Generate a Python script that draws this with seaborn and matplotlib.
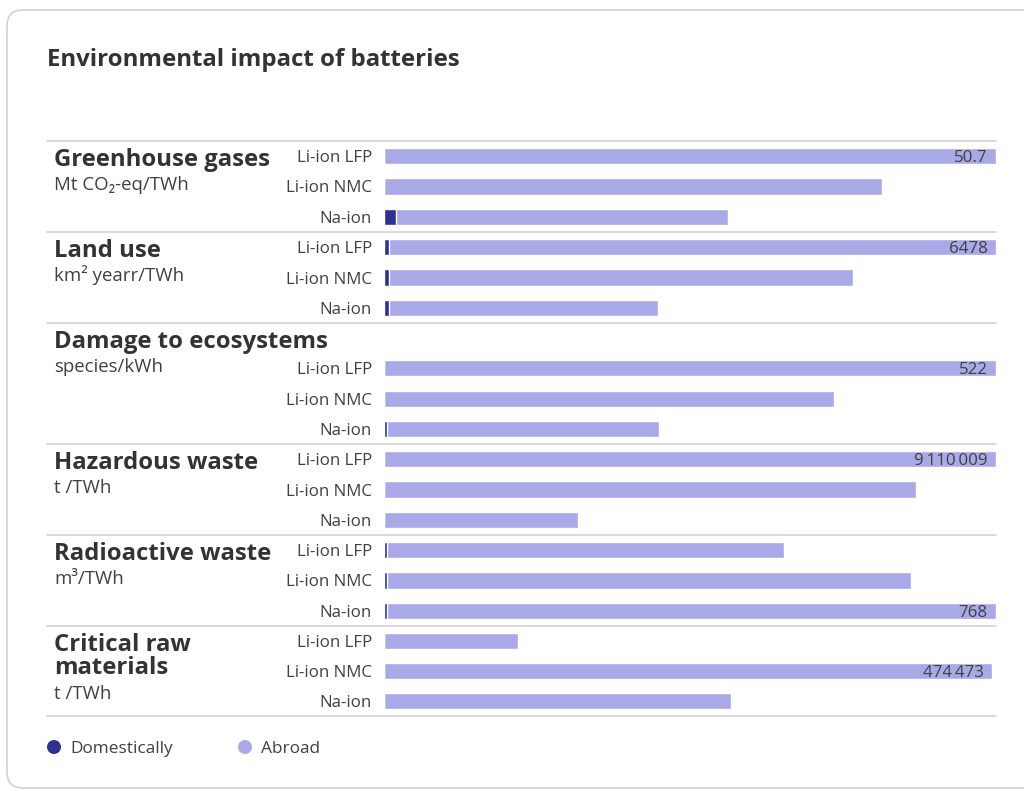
import matplotlib
matplotlib.use("Agg")
import matplotlib.pyplot as plt
from matplotlib.patches import FancyBboxPatch, Circle
import pandas as pd
import seaborn as sns

# ---- data -------------------------------------------------------------
batteries = ["Li-ion LFP", "Li-ion NMC", "Na-ion"]
groups = ["Greenhouse gases", "Land use", "Damage to ecosystems",
          "Hazardous waste", "Radioactive waste", "Critical raw\nmaterials"]
units = ["Mt CO\u2082-eq/TWh", "km\u00b2 yearr/TWh", "species/kWh",
         "t /TWh", "m\u00b3/TWh", "t /TWh"]

# total impact (domestic + abroad) per battery type
ghg_total = [50.7, 41.3, 28.5]
land_total = [6478, 4965, 2900]
eco_total = [522, 384, 235]
haz_total = [9110009, 7920000, 2900000]
rad_total = [502, 661, 768]
crm_total = [105000, 474473, 270800]

# domestic share of the impact
ghg_dom = [0, 0, 1.0]
land_dom = [60, 60, 60]
eco_dom = [0, 0, 3.4]
haz_dom = [0, 0, 0]
rad_dom = [3.8, 3.8, 5.0]
crm_dom = [0, 0, 0]

# upper end of each group's value axis
axis_max = [50.7, 6478, 522, 9110009, 768, 477600]

totals = [ghg_total, land_total, eco_total, haz_total, rad_total, crm_total]
domestic = [ghg_dom, land_dom, eco_dom, haz_dom, rad_dom, crm_dom]

# ---- style ------------------------------------------------------------
sns.set_theme(style="white")
plt.rcParams["font.family"] = ["Open Sans", "DejaVu Sans"]

ABROAD = "#a9a9e8"
DOMESTIC = "#2e3192"
TEXT = "#404040"
TITLE = "#333333"
RULE = "#cfcfcf"

W, H = 1024, 791
fig = plt.figure(figsize=(W / 100, H / 100), dpi=100)
fig.patch.set_facecolor("white")

# background layer in pixel units for the card, rules, text and legend
bg = fig.add_axes([0, 0, 1, 1], zorder=-1)
bg.set_xlim(0, W)
bg.set_ylim(H, 0)
bg.axis("off")

bg.add_patch(FancyBboxPatch((7, 10), 1100, 778,
                            boxstyle="round,pad=0,rounding_size=16",
                            facecolor="white", edgecolor="#d2d2d2",
                            linewidth=1.2))

bg.text(47, 66, "Environmental impact of batteries", fontsize=17.3,
        fontweight="bold", color=TITLE, va="baseline", ha="left")

bounds = [141, 232, 323, 444, 535, 626, 716]
header_rows = [0, 0, 1, 0, 0, 0]


def fmt(v):
    if isinstance(v, float) and not v.is_integer():
        return f"{v:.1f}"
    v = int(v)
    if v < 10000:
        return str(v)
    return f"{v:,}".replace(",", "\u2009")


for i, g in enumerate(groups):
    top, bot = bounds[i], bounds[i + 1]
    ax = fig.add_axes([383.5 / W, 1 - bot / H, 612.5 / W, (bot - top) / H])
    df = pd.DataFrame({"battery": batteries, "total": totals[i],
                       "domestic": domestic[i]})
    sns.barplot(data=df, x="total", y="battery", ax=ax, color=ABROAD,
                saturation=1, width=0.53, orient="h")
    sns.barplot(data=df, x="domestic", y="battery", ax=ax, color=DOMESTIC,
                saturation=1, width=0.53, orient="h")
    ax.set_xlim(0, axis_max[i])
    ax.set_ylim(2.5, -0.5 - header_rows[i])
    ax.set_xlabel("")
    ax.set_ylabel("")
    ax.set_xticks([])
    ax.tick_params(axis="y", length=0, pad=8.2, labelsize=12.2, labelcolor=TEXT)
    for s in ax.spines.values():
        s.set_visible(False)
    ax.patch.set_alpha(0)

    # value label on the largest bar of the group
    k = max(range(3), key=lambda j: totals[i][j])
    ax.annotate(fmt(totals[i][k]), xy=(totals[i][k], k), xytext=(-6, 0),
                textcoords="offset points", ha="right", va="center_baseline",
                fontsize=12.2, color=TEXT)

    # group title (one text per line) and unit
    lines = g.split("\n")
    for n, line in enumerate(lines):
        bg.text(54, top + 25 + 23 * n, line, fontsize=17.2, fontweight="bold",
                color=TITLE, va="baseline", ha="left")
    bg.text(54, top + 25 + 24 * len(lines), units[i], fontsize=13.4,
            color=TEXT, va="baseline", ha="left")

# separator rules
for b in bounds:
    bg.plot([47, 996], [b, b], color=RULE, lw=1.1)

# legend
for cx, label, col in [(54, "Domestically", DOMESTIC), (245, "Abroad", ABROAD)]:
    bg.add_patch(Circle((cx, 747), 7, facecolor=col, edgecolor="none"))
    bg.text(cx + 16, 747, label, fontsize=12.4, color=TEXT,
            va="center_baseline", ha="left")

fig.savefig("out.png", dpi=100, facecolor="white")
